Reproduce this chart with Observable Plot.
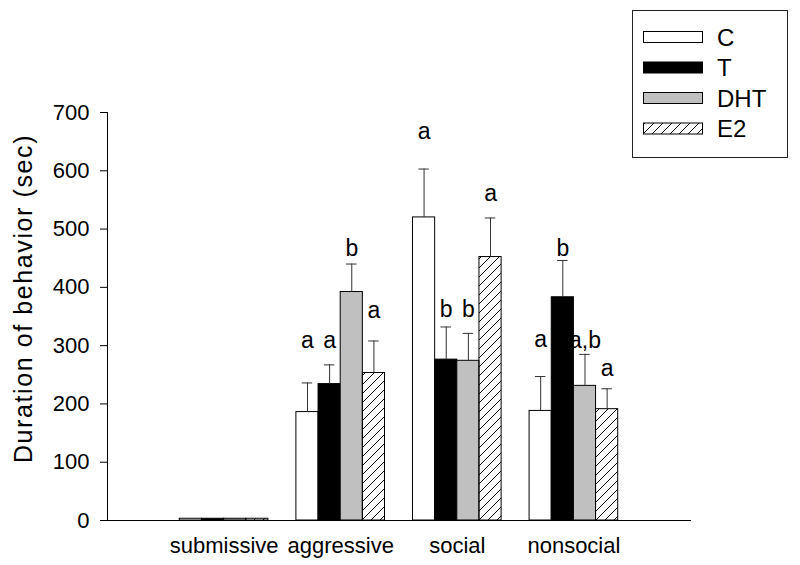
<!DOCTYPE html>
<html><head><meta charset="utf-8">
<script src="https://cdn.jsdelivr.net/npm/d3@7"></script>
<script src="https://cdn.jsdelivr.net/npm/@observablehq/plot@0.6"></script>
<style>
body{margin:0;background:#fff;font-family:"Liberation Sans",Arial,sans-serif;}
#wrap{position:relative;width:800px;height:565px;overflow:hidden;}
#legend{position:absolute;left:632px;top:10px;}
</style></head><body>
<svg width="0" height="0" style="position:absolute">
<defs><pattern id="hatch" patternUnits="userSpaceOnUse" width="9" height="9">
<path d="M-1,1 l2,-2 M0,9 l9,-9 M8,10 l2,-2" stroke="#000" stroke-width="1"/>
</pattern></defs></svg>
<div id="wrap"><div id="chart"></div><div id="legend"></div></div>
<script>
const behaviors = ["submissive", "aggressive", "social", "nonsocial"];
const treatments = ["C", "T", "DHT", "E2"];
const fills = ["white", "black", "#c0c0c0", "url(#hatch)"];

const meanC   = [3, 186, 520, 188];
const meanT   = [3, 234, 276, 383];
const meanDHT = [3, 392, 274, 231];
const meanE2  = [3, 253, 452, 191];

const seC   = [0, 50, 83, 59];
const seT   = [0, 33, 56, 63];
const seDHT = [0, 48, 47, 54];
const seE2  = [0, 55, 67, 35];

const letterC   = ["", "a", "a", "a"];
const letterT   = ["", "a", "b", "b"];
const letterDHT = ["", "b", "b", "a,b"];
const letterE2  = ["", "a", "a", "a"];

// height (in seconds) at which each significance letter sits
const letterYC   = [null, 309, 667, 310];
const letterYT   = [null, 309, 362, 467];
const letterYDHT = [null, 467, 362, 309];
const letterYE2  = [null, 360, 561, 261];

const yTicks = [0, 100, 200, 300, 400, 500, 600, 700];
const yLabel = "Duration of behavior (sec)";

const means = [meanC, meanT, meanDHT, meanE2];
const ses = [seC, seT, seDHT, seE2];
const letters = [letterC, letterT, letterDHT, letterE2];
const letterYs = [letterYC, letterYT, letterYDHT, letterYE2];

const barW = 0.19;
const cap = 0.045;
const rows = behaviors.flatMap((b, gi) => treatments.map((t, ti) => {
  const x1 = gi + (ti - 2) * barW;
  return {behavior: b, treatment: t, x1, x2: x1 + barW, xc: x1 + barW / 2,
    mean: means[ti][gi], se: ses[ti][gi], letter: letters[ti][gi], letterY: letterYs[ti][gi]};
}));
const errRows = rows.filter(d => d.se > 0);
const letterRows = rows.filter(d => d.letter);

const chart = Plot.plot({
  width: 800, height: 565,
  marginTop: 112, marginBottom: 45, marginLeft: 107, marginRight: 110,
  style: {fontFamily: "Liberation Sans, Arial, sans-serif", fontSize: "22px", background: "white", color: "black", overflow: "visible"},
  x: {domain: [-1, 4], axis: null},
  y: {domain: [0, 700], axis: null},
  color: {type: "ordinal", domain: treatments, range: fills},
  marks: [
    Plot.rectY(rows, {x1: "x1", x2: "x2", y1: 0, y2: "mean", fill: "treatment", stroke: "black", strokeWidth: 1}),
    Plot.ruleX(errRows, {x: "xc", y1: "mean", y2: d => d.mean + d.se, stroke: "#333", strokeWidth: 1}),
    Plot.ruleY(errRows, {y: d => d.mean + d.se, x1: d => d.xc - cap, x2: d => d.xc + cap, stroke: "#333", strokeWidth: 1}),
    Plot.text(letterRows, {x: "xc", y: "letterY", text: "letter", fontSize: 23, lineAnchor: "middle", fill: "black"}),
    Plot.frame({anchor: "left", stroke: "black"}),
    Plot.frame({anchor: "bottom", stroke: "black"}),
    Plot.axisY({ticks: yTicks, tickSize: 7, tickPadding: 11, fontSize: 22, label: null}),
    Plot.text([yLabel], {frameAnchor: "left", rotate: -90, dx: -84, dy: -18, fontSize: 25, textAnchor: "middle", lineAnchor: "middle", fill: "black"}),
    Plot.axisX({ticks: d3.range(behaviors.length), tickFormat: i => behaviors[i], tickSize: 0, tickPadding: 17, fontSize: 22, label: null})
  ]
});
chart.querySelectorAll("text").forEach(t => { if (t.textContent === yLabel) t.setAttribute("letter-spacing", "1.6px"); });
document.getElementById("chart").appendChild(chart);

// legend
const ns = "http://www.w3.org/2000/svg";
const lg = document.createElementNS(ns, "svg");
lg.setAttribute("width", 156); lg.setAttribute("height", 148);
const box = document.createElementNS(ns, "rect");
box.setAttribute("x", 0.5); box.setAttribute("y", 0.5); box.setAttribute("width", 155); box.setAttribute("height", 147);
box.setAttribute("fill", "white"); box.setAttribute("stroke", "#222");
lg.appendChild(box);
treatments.forEach((t, i) => {
  const cy = 27 + i * 30.5;
  const r = document.createElementNS(ns, "rect");
  r.setAttribute("x", 11.5); r.setAttribute("y", cy - 5.5); r.setAttribute("width", 59); r.setAttribute("height", 11);
  r.setAttribute("fill", fills[i]); r.setAttribute("stroke", "black");
  lg.appendChild(r);
  const tx = document.createElementNS(ns, "text");
  tx.setAttribute("x", 85); tx.setAttribute("y", cy); tx.setAttribute("dy", "0.36em");
  tx.setAttribute("font-size", 24); tx.setAttribute("font-family", "Liberation Sans, Arial, sans-serif");
  tx.textContent = t;
  lg.appendChild(tx);
});
document.getElementById("legend").appendChild(lg);
</script>
</body></html>
